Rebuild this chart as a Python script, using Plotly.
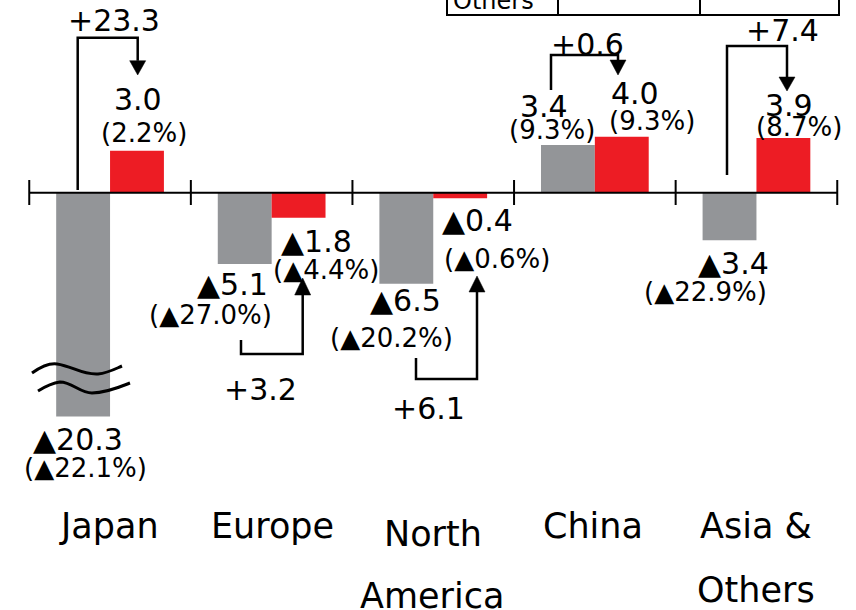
import plotly.graph_objects as go

# ---------------- data ----------------
categories = ["Japan", "Europe", "North<br>America", "China", "Asia &<br>Others"]
prev_values = [-20.3, -5.1, -6.5, 3.4, -3.4]      # grey bars
prev_pct = [-22.1, -27.0, -20.2, 9.3, -22.9]
curr_values = [3.0, -1.8, -0.4, 4.0, 3.9]          # red bars
curr_pct = [2.2, -4.4, -0.6, 9.3, 8.7]
changes = [23.3, 3.2, 6.1, 0.6, 7.4]

GREY = "#939598"
RED = "#ED1C24"
FONT = "DejaVu Sans"

# axis break for the long Japan bar
BREAK_AT = -12.0
BREAK_SCALE = 0.48


def shown(v):
    return v if v >= BREAK_AT else BREAK_AT + (v - BREAK_AT) * BREAK_SCALE


def fmt_val(v):
    return ("▲%.1f" % abs(v)) if v < 0 else ("%.1f" % v)


def fmt_pct(p):
    return ("(▲%.1f%%)" % abs(p)) if p < 0 else ("(%.1f%%)" % p)


def fmt_chg(c):
    return "+%.1f" % c


# ---------------- geometry ----------------
W, H = 856, 610
X0, X1 = -0.681, 4.616
Y0, Y1 = -29.81, 13.76


def dx(px):
    return X0 + px / W * (X1 - X0)


def dy(py):
    return Y1 - py / H * (Y1 - Y0)


xs = list(range(len(categories)))

fig = go.Figure()
fig.add_trace(go.Bar(x=xs, y=[shown(v) for v in prev_values], marker_color=GREY,
                     marker_line_width=0, hoverinfo="skip"))
fig.add_trace(go.Bar(x=xs, y=[shown(v) for v in curr_values], marker_color=RED,
                     marker_line_width=0, hoverinfo="skip"))

shapes = []
# baseline axis and ticks
shapes.append(dict(type="line", xref="x", yref="y", x0=-0.5, x1=len(xs) - 0.5, y0=0, y1=0,
                   line=dict(color="black", width=2), layer="above"))
for i in range(len(xs) + 1):
    shapes.append(dict(type="line", xref="x", yref="y", x0=i - 0.5, x1=i - 0.5,
                       y0=dy(180), y1=dy(205), line=dict(color="black", width=2)))


def path(points):
    return "M " + " L ".join("%f,%f" % (dx(a), dy(b)) for a, b in points)


def bracket(xl, yl, ytop, xr, ybase, ytip):
    shapes.append(dict(type="path", xref="x", yref="y",
                       path=path([(xl, yl), (xl, ytop), (xr, ytop), (xr, ybase)]),
                       line=dict(color="black", width=2.5)))
    shapes.append(dict(type="path", xref="x", yref="y",
                       path=path([(xr - 8, ybase), (xr + 8, ybase), (xr, ytip)]) + " Z",
                       fillcolor="black", line=dict(color="black", width=0.5)))


bracket(77.7, 190, 37.7, 137.7, 60.7, 75)     # Japan
bracket(241, 340, 354, 302.7, 295, 278)       # Europe
bracket(416, 358, 379, 477, 292, 276)         # North America
bracket(551, 90, 55, 618, 60, 75)             # China
bracket(727, 175, 46, 787, 77, 91)            # Asia & Others


def curve(pts):
    s = "M %f,%f" % (dx(pts[0][0]), dy(pts[0][1]))
    for k in range(1, len(pts), 3):
        s += " C " + " ".join("%f,%f" % (dx(a), dy(b)) for a, b in pts[k:k + 3])
    return s


# break marks
shapes.append(dict(type="path", xref="x", yref="y", layer="above",
                   path=curve([(32, 373), (42, 366), (50, 363), (57, 364),
                               (72, 366), (82, 375), (98, 374),
                               (108, 373), (115, 369), (122, 366)]),
                   line=dict(color="black", width=3)))
shapes.append(dict(type="path", xref="x", yref="y", layer="above",
                   path=curve([(38, 391), (46, 386), (52, 383), (60, 382),
                               (72, 382), (80, 393), (92, 393),
                               (106, 393), (120, 387), (130, 383)]),
                   line=dict(color="black", width=3)))

# partial table at the top
shapes.append(dict(type="rect", xref="x", yref="y", x0=dx(447), x1=dx(839), y0=dy(-40), y1=dy(15),
                   line=dict(color="black", width=2)))
for px in (558, 700):
    shapes.append(dict(type="line", xref="x", yref="y", x0=dx(px), x1=dx(px), y0=dy(-40), y1=dy(15),
                       line=dict(color="black", width=2)))

annotations = []


def label(text, px, py, size, xanchor="center"):
    annotations.append(dict(text=text, x=dx(px), y=dy(py), xref="x", yref="y",
                            showarrow=False, xanchor=xanchor, yanchor="middle",
                            font=dict(family=FONT, size=size, color="black")))


VAL, PCT, CHG, CAT = 30, 26, 30, 35

# Japan
label(fmt_chg(changes[0]), 114, 20, CHG)
label(fmt_val(curr_values[0]), 138, 99, VAL)
label(fmt_pct(curr_pct[0]), 144, 133, PCT)
label(fmt_val(prev_values[0]), 77.5, 439, VAL)
label(fmt_pct(prev_pct[0]), 85, 468, PCT)
# Europe
label(fmt_val(curr_values[1]), 316, 241, VAL)
label(fmt_pct(curr_pct[1]), 326, 270, PCT)
label(fmt_val(prev_values[1]), 232, 284, VAL)
label(fmt_pct(prev_pct[1]), 210, 315, PCT)
label(fmt_chg(changes[1]), 260, 389, CHG)
# North America
label(fmt_val(curr_values[2]), 477, 220, VAL)
label(fmt_pct(curr_pct[2]), 497, 259, PCT)
label(fmt_val(prev_values[2]), 405, 300, VAL)
label(fmt_pct(prev_pct[2]), 391, 338, PCT)
label(fmt_chg(changes[2]), 428, 408, CHG)
# China
label(fmt_val(prev_values[3]), 544, 106, VAL)
label(fmt_pct(prev_pct[3]), 552, 130, PCT)
label(fmt_val(curr_values[3]), 635, 93, VAL)
label(fmt_pct(curr_pct[3]), 652, 121, PCT)
label(fmt_chg(changes[3]), 587, 44, CHG)
# Asia & Others
label(fmt_val(curr_values[4]), 789, 105, VAL)
label(fmt_pct(curr_pct[4]), 799, 127, PCT)
label(fmt_val(prev_values[4]), 733, 263, VAL)
label(fmt_pct(prev_pct[4]), 705, 292, PCT)
label(fmt_chg(changes[4]), 782, 30, CHG)

# category labels, each line placed separately (screen pixel positions)
cat_pos = {"Japan": (109, 526), "Europe": (272, 526), "North": (433, 534), "America": (432, 596),
           "China": (593, 526), "Asia &": (756, 526), "Others": (756, 590)}
for cat in categories:
    for line in cat.split("<br>"):
        px, py = cat_pos[line]
        label(line, px, py, CAT)

# table cell text
label("Others", 451, 0.5, 24, xanchor="left")

fig.update_layout(
    width=W, height=H, autosize=False,
    margin=dict(l=0, r=0, t=0, b=0),
    paper_bgcolor="white", plot_bgcolor="white",
    barmode="group", bargap=1 / 3, bargroupgap=0,
    showlegend=False,
    xaxis=dict(range=[X0, X1], visible=False, fixedrange=True),
    yaxis=dict(range=[Y0, Y1], visible=False, fixedrange=True),
    shapes=shapes, annotations=annotations,
)

fig.write_html("out.html", config={"displayModeBar": False},
               post_script="document.body.style.margin='0';document.body.style.overflow='hidden';")
